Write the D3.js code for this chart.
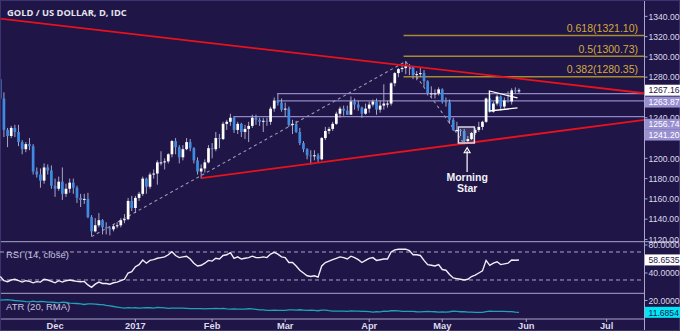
<!DOCTYPE html>
<html><head><meta charset="utf-8">
<script src="https://cdn.jsdelivr.net/npm/d3@7"></script>
<style>body{margin:0;background:#1f1547;}svg{display:block}</style>
</head><body><svg id="c" width="680" height="331"></svg>
<script>
// ---------- DATA ----------
const startDate = "2016-11-10";
const endCalendar = "2017-07-31";
const holidays = ["2017-01-02"];
const title = "GOLD / US DOLLAR, D, IDC";

const open = [1278,1259,1228,1222,1230,1226,1216,1209,1214,1212,1187,1184,1178,1191,1188,
1173,1170,1177,1165,1170,1176,1171,1161,1159,1160,1142,1128,1134,1139,1132,1131,1130,1133,1134,1139,1140,1158,
1151,1161,1165,1180,1172,1184,1185,1196,1196,1197,1204,1217,1211,1201,1209,1216,1210,1198,1187,1190,1196,
1210,1209,1220,1219,1234,1236,1240,1228,1234,1226,1229,1232,1240,1238,1236,1237,1236,1249,1257,1255,
1248,1249,1233,1234,1226,1215,1209,1203,1202,1203,1199,1220,1227,1229,1234,1244,1249,1247,1243,1256,1253,1250,1244,
1249,1253,1256,1248,1252,1254,1254,1274,1284,1288,1289,1291,1290,1282,1283,1284,1276,1264,1264,1264,
1268,1256,1255,1238,1228,1228,1227,1217,1219,1225,1228,1231,1236,1259,1246,1254,1261,1251,1257,1256,1267,1266];
const high = [1295,1265,1230,1232,1233,1233,1218,1216,1220,1214,1191,1190,1195,1194,1193,
1180,1182,1191,1175,1180,1180,1173,1165,1165,1166,1144,1141,1146,1140,1137,1133,1135,1137,1141,1145,1161,1163,
1163,1167,1182,1181,1186,1189,1198,1207,1200,1205,1218,1220,1213,1213,1220,1219,1211,1201,1194,1199,1213,
1215,1226,1224,1236,1238,1244,1241,1236,1235,1233,1236,1243,1243,1240,1240,1240,1251,1260,1264,1259,
1255,1251,1238,1237,1230,1217,1210,1208,1208,1205,1221,1231,1231,1236,1246,1251,1252,1252,1261,1259,1257,1251,1254,
1256,1258,1259,1257,1273,1257,1275,1285,1289,1291,1296,1293,1291,1286,1290,1287,1277,1271,1268,1270,
1269,1260,1258,1240,1236,1229,1229,1222,1226,1230,1236,1237,1260,1264,1256,1263,1262,1260,1266,1269,1270,1269];
const low = [1257,1221,1211,1220,1221,1212,1204,1206,1208,1184,1181,1171,1175,1184,1170,
1162,1168,1159,1162,1166,1165,1156,1152,1155,1141,1123,1127,1132,1125,1125,1124,1128,1131,1132,1136,1139,1148,
1146,1158,1163,1165,1170,1180,1174,1193,1189,1195,1201,1204,1195,1198,1208,1207,1195,1184,1180,1186,1195,
1200,1207,1210,1218,1228,1232,1225,1224,1221,1219,1216,1230,1233,1232,1226,1232,1233,1246,1252,1246,
1241,1231,1224,1225,1213,1206,1199,1194,1198,1196,1198,1218,1224,1227,1233,1240,1242,1243,1243,1248,1247,1240,1243,
1245,1251,1243,1245,1248,1250,1252,1271,1280,1285,1283,1282,1278,1277,1280,1271,1262,1260,1259,1262,
1254,1251,1234,1227,1226,1222,1214,1215,1218,1223,1226,1228,1235,1245,1245,1252,1247,1249,1255,1253,1264,1264];
const close = [1259,1228,1222,1230,1226,1216,1209,1214,1212,1187,1184,1178,1191,1188,1173,
1170,1177,1165,1170,1176,1171,1161,1159,1160,1142,1128,1134,1139,1132,1131,1130,1133,1134,1139,1140,1158,1151,
1161,1165,1180,1172,1184,1185,1196,1196,1197,1204,1217,1211,1201,1209,1216,1210,1198,1187,1190,1196,1210,
1209,1220,1219,1234,1236,1240,1228,1234,1226,1229,1232,1240,1238,1236,1237,1236,1249,1257,1255,1248,
1249,1233,1234,1226,1215,1209,1203,1202,1203,1199,1220,1227,1229,1234,1244,1249,1247,1243,1256,1253,1250,1244,1249,
1253,1256,1248,1252,1254,1254,1274,1284,1288,1289,1291,1290,1282,1283,1284,1276,1264,1264,1264,1268,
1256,1255,1238,1228,1228,1227,1217,1219,1225,1228,1231,1236,1259,1246,1254,1261,1251,1257,1256,1267,1266,1267.16];

const rsi = [35,29,27.6,30,31,29,27,29,28,26,27.6,27,31,30,28,
26,29,27,29,30,29,28,27.6,28,23,19.6,24,27,25,25,24,26,27,29,31,40,42,
49,52,58.6,54,58,59,61,62,63,66,70.4,65,62,63,64,60,54,50,51,54,58,
57,61,60,65,66,69,61,63,60,61,62,64,62,62,63,62,67,69.5,67,63,
62,55,55,50,44,40,36,35,36,34,50,55,57,59,61,63,62,60,64,62,59,55,58,
61,62,58,59,60,60,70,73,74,74,74,72,66,66,65,58,52,51,50,52,
45,44,38,33,32,31,30,31,35,37,40,43,58,51,54,56,52,53,54,58.5,58.2,58.6535];

const atr = [20.2,20.5,20.6,20.3,20.0,19.8,19.5,19.2,19.0,19.6,19.1,19.3,19.2,18.8,18.8,
18.6,18.3,18.9,18.6,18.2,18.0,17.9,17.6,17.2,17.6,17.7,17.5,17.2,17.1,16.6,16.2,15.8,15.4,15.0,14.7,15.0,14.8,
14.9,14.6,14.8,14.9,14.9,14.6,15.1,15.0,14.8,14.5,14.6,14.6,14.7,14.6,14.5,14.3,14.3,14.3,14.3,14.1,14.3,
14.3,14.4,14.3,14.4,14.1,14.0,14.1,14.0,14.0,13.9,14.2,14.1,13.8,13.4,13.4,13.0,13.1,13.2,13.1,13.0,
13.1,13.4,13.4,13.3,13.5,13.3,13.1,13.2,13.0,12.8,13.3,13.3,12.9,12.6,12.6,12.6,12.5,12.4,12.7,12.6,12.5,12.4,12.3,
12.2,11.9,12.1,12.0,12.6,12.3,12.8,12.9,12.7,12.4,12.4,12.3,12.3,12.1,12.0,12.2,12.3,12.2,12.1,11.9,
12.0,11.9,12.1,12.6,12.4,12.1,12.2,11.9,11.8,11.6,11.7,11.6,12.2,12.5,12.4,12.3,12.4,12.3,12.2,12.2,11.9,11.6854];

const priceTicks = [1120,1140,1160,1180,1200,1220,1240,1260,1280,1300,1320,1340];
const rsiTicks = [80,40];
const rsiBands = [70,30];
const atrTicks = [20];
const monthLabels = ["Dec","2017","Feb","Mar","Apr","May","Jun","Jul"];

// annotations (bar index, price)
const resistance = [[-1,1338.1],[111,1291.4]];
const support = [[55,1180.5],[85,1194.7]];
const fibPath = [[25,1122.8],[111,1295.5],[127,1214.4]];
const fibLevels = [{r:"0.382",v:1280.35},{r:"0.5",v:1300.73},{r:"0.618",v:1321.10}];
const fibStart = 110.4;
const hLevels = [{v:1263.87,from:75.8},{v:1256.74,from:75.8},{v:1241.20,from:63.8}];
const triangle = [[141.6,1259.5],[133.9,1266.4],[133.9,1246.7],[141.6,1249.7]];
const msBox = {i0:125.4,i1:129.8,p0:1215.1,p1:1230.9};
const msArrow = {i:127.8,pTop:1210.5,pBottom:1186.5};
const msText = ["Morning","Star"];
const priceLabels = [
  {v:1267.16,text:"1267.16",fill:"#ffffff",color:"#1f1547",dy:0},
  {v:1263.87,text:"1263.87",fill:"#9890d0",color:"#ffffff",dy:8.5},
  {v:1256.74,text:"1256.74",fill:"#9890d0",color:"#ffffff",dy:23.5},
  {v:1241.20,text:"1241.20",fill:"#9890d0",color:"#ffffff",dy:18.5}
];

// ---------- LAYOUT ----------
const W=680,H=331, plotR=644.5;
const mainTop=0, mainBot=241.7, rsiBot=293.3, atrBot=319;
const bg="#1f1547", axisCol="#aaa6cc", txt="#dcdaea";
const axFont="Liberation Sans, Arial, sans-serif", axSize=8.6, labX=648.5;

const svg=d3.select("#c");
svg.append("rect").attr("width",W).attr("height",H).attr("fill",bg);

// calendar of trading days
const parse=d3.timeParse("%Y-%m-%d"), fmt=d3.timeFormat("%Y-%m-%d");
const calendar=d3.timeDay.range(parse(startDate),d3.timeDay.offset(parse(endCalendar),1))
  .filter(d=>d.getDay()!==0&&d.getDay()!==6&&!holidays.includes(fmt(d)));
const monthStarts=[];
calendar.forEach((d,i)=>{ if(i>0 && d.getMonth()!==calendar[i-1].getMonth()) monthStarts.push(i); });

const x=d3.scaleLinear().domain([-0.07,176.36]).range([0,plotR]);
const y=d3.scaleLinear().domain([1117.8,1356.1]).range([mainBot,mainTop]);
const yR=d3.scaleLinear().domain([11,84.7]).range([rsiBot,mainBot]);
const yA=d3.scaleLinear().domain([7,25.07]).range([atrBot,rsiBot]);

const defs=svg.append("defs");
defs.append("clipPath").attr("id","clipMain").append("rect").attr("x",0).attr("y",mainTop).attr("width",plotR).attr("height",mainBot-mainTop);

const main=svg.append("g").attr("clip-path","url(#clipMain)");

// horizontal levels
hLevels.forEach(h=>{
  main.append("line").attr("x1",x(h.from)).attr("x2",plotR).attr("y1",y(h.v)).attr("y2",y(h.v))
    .attr("stroke","#8f88c6").attr("stroke-width",1.2);
});

// fib levels
fibLevels.forEach(f=>{
  main.append("line").attr("x1",x(fibStart)).attr("x2",plotR).attr("y1",y(f.v)).attr("y2",y(f.v))
    .attr("stroke","#a88a30").attr("stroke-width",1.5);
  main.append("text").attr("x",638).attr("y",y(f.v)-3.5).attr("text-anchor","end")
    .attr("font-family",axFont).attr("font-size",10.5).attr("fill","#d4aa3c")
    .text(`${f.r}(${f.v.toFixed(2)})`);
});

// dashed fib path
main.append("path").attr("d",d3.line().x(d=>x(d[0])).y(d=>y(d[1]))(fibPath))
  .attr("fill","none").attr("stroke","#9a98b0").attr("stroke-width",1.1).attr("stroke-dasharray","3,3");

// candles
const idx=d3.range(close.length);
const up=i=>close[i]>=open[i];
main.append("g").selectAll("line").data(idx).join("line")
  .attr("x1",i=>x(i)).attr("x2",i=>x(i)).attr("y1",i=>y(high[i])).attr("y2",i=>y(low[i]))
  .attr("stroke","#a9a6c6").attr("stroke-width",1);
main.append("g").selectAll("rect").data(idx).join("rect")
  .attr("x",i=>x(i)-1.35).attr("width",2.7)
  .attr("y",i=>y(Math.max(open[i],close[i])))
  .attr("height",i=>Math.max(1,Math.abs(y(open[i])-y(close[i]))))
  .attr("fill",i=>up(i)?"#ffffff":"#3f8be2");

// trendlines
function extended(pts,fromIdx){
  const [a,b]=pts; const s=(b[1]-a[1])/(b[0]-a[0]);
  const x1=fromIdx, x2=x.domain()[1];
  return [[x1,a[1]+s*(x1-a[0])],[x2,a[1]+s*(x2-a[0])]];
}
const redLine=d3.line().x(d=>x(d[0])).y(d=>y(d[1]));
main.append("path").attr("d",redLine(extended(resistance,x.domain()[0]))).attr("stroke","#e8121c").attr("stroke-width",1.8).attr("fill","none");
main.append("path").attr("d",redLine(extended(support,support[0][0]))).attr("stroke","#e8121c").attr("stroke-width",1.8).attr("fill","none");

// triangle
main.append("path").attr("d",d3.line().x(d=>x(d[0])).y(d=>y(d[1]))(triangle))
  .attr("fill","none").attr("stroke","#ffffff").attr("stroke-width",1.3);

// morning star box
main.append("rect").attr("x",x(msBox.i0)).attr("y",y(msBox.p1)).attr("width",x(msBox.i1)-x(msBox.i0)).attr("height",y(msBox.p0)-y(msBox.p1))
  .attr("fill","rgba(255,255,255,0.12)").attr("stroke","#e4e2ee").attr("stroke-width",1.4);
const ax=x(msArrow.i), ayT=y(msArrow.pTop), ayB=y(msArrow.pBottom);
main.append("line").attr("x1",ax).attr("x2",ax).attr("y1",ayT+3).attr("y2",ayB).attr("stroke","#ffffff").attr("stroke-width",1.2);
main.append("path").attr("d",`M${ax},${ayT}L${ax-3},${ayT+5}L${ax+3},${ayT+5}Z`).attr("fill","none").attr("stroke","#ffffff").attr("stroke-width",1.1);
msText.forEach((t,k)=>{
  main.append("text").attr("x",ax).attr("y",ayB+8.5+k*11).attr("text-anchor","middle")
    .attr("font-family",axFont).attr("font-weight","bold").attr("font-size",10.5)
    .attr("fill","#f2f2f8").text(t);
});

// panel separators / frame
svg.append("line").attr("x1",0).attr("x2",W).attr("y1",mainBot).attr("y2",mainBot).attr("stroke",axisCol).attr("stroke-width",1);
svg.append("line").attr("x1",0).attr("x2",plotR).attr("y1",rsiBot).attr("y2",rsiBot).attr("stroke",axisCol).attr("stroke-width",1);
svg.append("line").attr("x1",0).attr("x2",plotR).attr("y1",atrBot).attr("y2",atrBot).attr("stroke",axisCol).attr("stroke-width",1);
svg.append("line").attr("x1",plotR).attr("x2",plotR).attr("y1",0).attr("y2",H).attr("stroke",axisCol).attr("stroke-width",1);
svg.append("rect").attr("x",0.5).attr("y",0.5).attr("width",W-1).attr("height",H-1).attr("fill","none").attr("stroke","#3c3470");

// title
svg.append("text").attr("x",7).attr("y",15.5).attr("font-family","Open Sans, sans-serif").attr("font-weight","bold")
  .attr("font-size",9.3).attr("fill","#e4e2ee").text(title);

// right price axis (tick labels hidden under a price-label box are skipped, as in the original)
const boxCenters=priceLabels.map(l=>y(l.v)+l.dy);
const ptick=svg.append("g");
priceTicks.forEach(v=>{
  const yy=y(v);
  ptick.append("line").attr("x1",plotR).attr("x2",plotR+3).attr("y1",yy).attr("y2",yy).attr("stroke",axisCol);
  if(boxCenters.some(c=>Math.abs(c-yy)<5.5)) return;
  ptick.append("text").attr("x",labX).attr("y",yy+3.2).attr("font-family",axFont).attr("font-size",axSize).attr("fill",txt).text(v.toFixed(2));
});
priceLabels.forEach(l=>{
  const yy=y(l.v)+l.dy;
  svg.append("rect").attr("x",plotR+0.5).attr("y",yy-5.5).attr("width",W-plotR).attr("height",11).attr("fill",l.fill);
  svg.append("text").attr("x",labX).attr("y",yy+3.2).attr("font-family",axFont).attr("font-size",axSize).attr("fill",l.color).text(l.text);
});

// RSI panel
rsiBands.forEach(v=>{
  svg.append("line").attr("x1",0).attr("x2",plotR).attr("y1",yR(v)).attr("y2",yR(v)).attr("stroke","#a9a6c6").attr("stroke-dasharray","4,3").attr("stroke-width",1);
});
svg.append("path").attr("d",d3.line().x((d,i)=>x(i)).y(d=>yR(d))(rsi)).attr("fill","none").attr("stroke","#f0eff8").attr("stroke-width",1.4);
svg.append("text").attr("x",6).attr("y",257.5).attr("font-family",axFont).attr("font-size",9.5).attr("fill","#c8c4e0").text("RSI (14, close)");
rsiTicks.forEach(v=>{
  svg.append("line").attr("x1",plotR).attr("x2",plotR+3).attr("y1",yR(v)).attr("y2",yR(v)).attr("stroke",axisCol);
  svg.append("text").attr("x",labX).attr("y",yR(v)+3.4).attr("font-family",axFont).attr("font-size",axSize).attr("fill",txt).text(v.toFixed(4));
});
{
  const last=rsi[rsi.length-1], yy=yR(last);
  svg.append("rect").attr("x",plotR+0.5).attr("y",yy-5.5).attr("width",W-plotR).attr("height",11).attr("fill","#ffffff");
  svg.append("text").attr("x",labX).attr("y",yy+3.2).attr("font-family",axFont).attr("font-size",axSize).attr("fill","#1f1547").text(last.toFixed(4));
}

// ATR panel
svg.append("path").attr("d",d3.line().x((d,i)=>x(i)).y(d=>yA(d))(atr)).attr("fill","none").attr("stroke","#1ea4b8").attr("stroke-width",1.3);
svg.append("text").attr("x",6).attr("y",309.5).attr("font-family",axFont).attr("font-size",9.5).attr("fill","#c8c4e0").text("ATR (20, RMA)");
atrTicks.forEach(v=>{
  svg.append("line").attr("x1",plotR).attr("x2",plotR+3).attr("y1",yA(v)).attr("y2",yA(v)).attr("stroke",axisCol);
  svg.append("text").attr("x",labX).attr("y",yA(v)+3.2).attr("font-family",axFont).attr("font-size",axSize).attr("fill",txt).text(v.toFixed(4));
});
{
  const last=atr[atr.length-1], yy=yA(last);
  svg.append("rect").attr("x",plotR+0.5).attr("y",yy-5.5).attr("width",W-plotR).attr("height",11).attr("fill","#00e6f6");
  svg.append("text").attr("x",labX).attr("y",yy+3.2).attr("font-family",axFont).attr("font-size",axSize).attr("fill","#1f1547").text(last.toFixed(4));
}

// bottom time axis
monthStarts.forEach((i,k)=>{
  if(k>=monthLabels.length) return;
  const xx=x(i);
  svg.append("line").attr("x1",xx).attr("x2",xx).attr("y1",atrBot).attr("y2",atrBot+3).attr("stroke",axisCol);
  svg.append("text").attr("x",xx).attr("y",329).attr("text-anchor","middle").attr("font-family",axFont)
    .attr("font-weight","bold").attr("font-size",9.3).attr("fill",txt).text(monthLabels[k]);
});
</script></body></html>
